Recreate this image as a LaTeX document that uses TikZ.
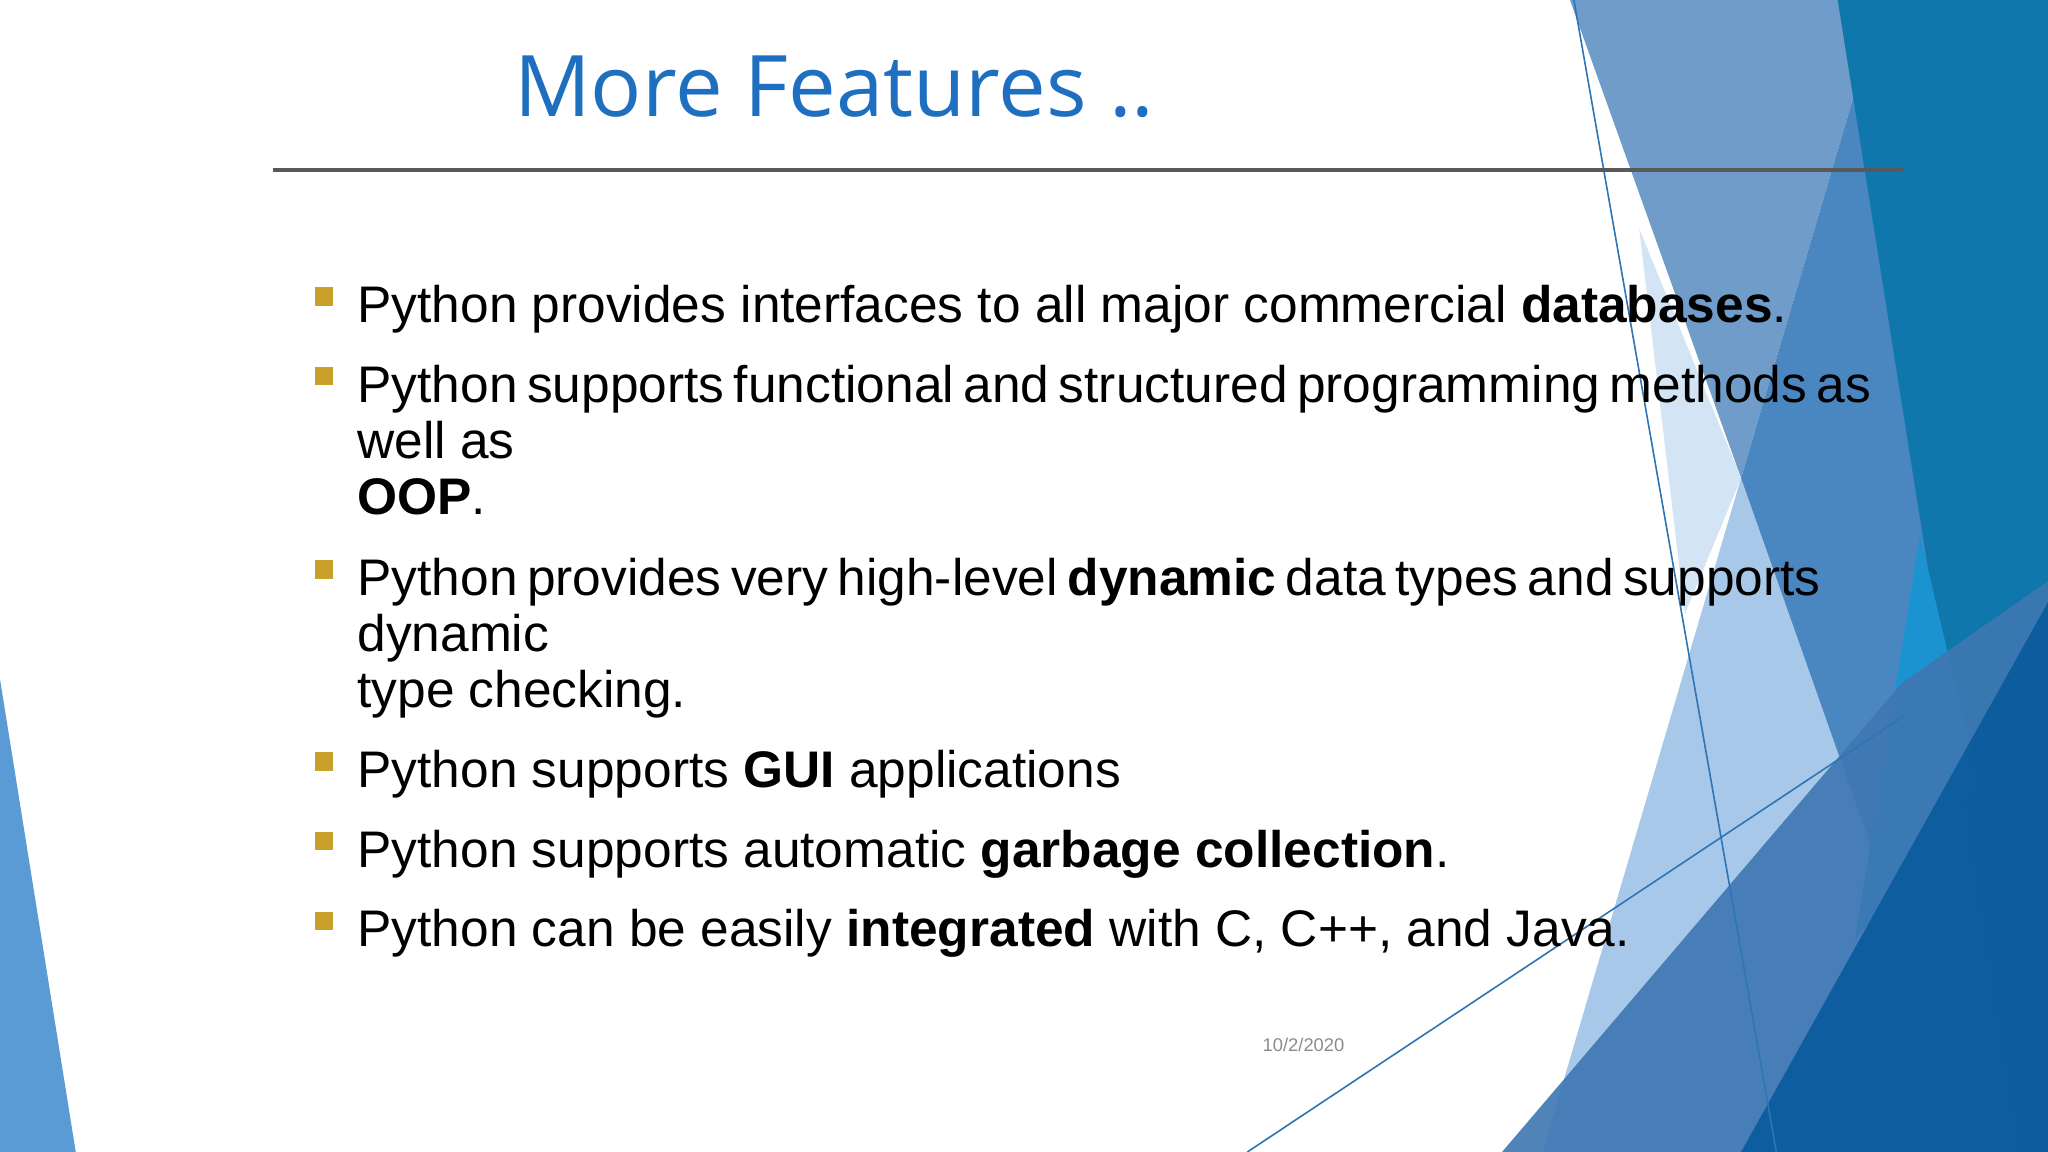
\documentclass[tikz,border=0pt]{standalone}
\usepackage{fontspec}
\setmainfont{Liberation Sans}
\newfontfamily\titlefont{Open Sans}
\definecolor{bulgold}{HTML}{C9A02C}
\definecolor{lineblue}{HTML}{2E75B6}
\definecolor{titleblue}{HTML}{1F6FC0}
\definecolor{cleft}{RGB}{91,155,213}
\definecolor{csteel}{RGB}{111,156,200}
\definecolor{cpale}{RGB}{211,228,245}
\definecolor{clight}{RGB}{168,200,233}
\definecolor{cmed}{RGB}{74,134,191}
\definecolor{cteal}{RGB}{15,119,171}
\definecolor{ccyan}{RGB}{27,147,208}
\definecolor{clow}{RGB}{62,119,178}
\definecolor{cnavy}{RGB}{11,92,158}
\definecolor{crule}{RGB}{89,89,89}
\definecolor{cdate}{RGB}{140,140,140}
\begin{document}
\begin{tikzpicture}[x=0.01cm,y=-0.01cm,
  txt/.style={anchor=base west,inner sep=0pt,font=\fontsize{11.2pt}{13pt}\selectfont},
  bul/.style={fill=bulgold,draw=none},
  ln/.style={draw=lineblue,line width=0.35pt}]
\useasboundingbox (0,0) rectangle (1568,882);
\fill[white] (0,0) rectangle (1568,882);
\begin{scope}
\clip (0,0) rectangle (1568,882);
\fill[cleft] (0,520) -- (58,882) -- (0,882) -- cycle;
\fill[csteel] (1202,0) -- (1441,0) -- (1333,366) -- cycle;
\fill[cpale] (1255,175) -- (1333,366) -- (1290,470) -- cycle;
\fill[clight] (1333,366) -- (1515,882) -- (1181,882) -- cycle;
\fill[cmed] (1441,0) -- (1568,0) -- (1568,882) -- (1515,882) -- (1333,366) -- cycle;
\fill[cteal] (1407,0) -- (1568,0) -- (1568,882) -- (1547,882) -- cycle;
\fill[ccyan] (1470,410) -- (1515,600) -- (1420,720) -- cycle;
\fill[clow,opacity=0.9] (1150,882) -- (1456,523) -- (1568,445) -- (1568,882) -- cycle;
\fill[cnavy,opacity=0.95] (1568,461) -- (1568,882) -- (1333,882) -- cycle;
\coordinate (l1a) at (1205,0); \coordinate (l1b) at (1360,882);
\coordinate (l2a) at (955,882); \coordinate (l2b) at (1458,548);
\draw[ln] (l1a) -- (l1b);
\draw[ln] (l2a) -- (l2b);
\end{scope}
\node[anchor=base west,inner sep=0pt,text=titleblue,font=\titlefont\fontsize{18.5pt}{20pt}\selectfont] (title) at (393,89) {More Features ..};
\coordinate (ra) at (209,130); \coordinate (rb) at (1457,130);
\draw[crule,line width=0.9pt] (ra) -- (rb);
\foreach \b in {247,308,456,603,664,725}{
  \fill[bul] (241,\b-27) rectangle (255,\b-13);
}
\node[txt] (t1) at (273,247) {Python provides interfaces to all major commercial \textbf{databases}.};
\node[txt] (t2) at (273,308) {\makebox[10.92cm][s]{Python supports functional and structured programming methods as}};
\node[txt] (t2b) at (273,351) {well as};
\node[txt] (t2c) at (273,394) {\textbf{OOP}.};
\node[txt] (t3) at (273,456) {\makebox[10.86cm][s]{Python provides very high-level \textbf{dynamic} data types and supports}};
\node[txt] (t3b) at (273,499) {dynamic};
\node[txt] (t3c) at (273,542) {type checking.};
\node[txt] (t4) at (273,603) {Python supports \textbf{GUI} applications};
\node[txt] (t5) at (273,664) {Python supports automatic \textbf{garbage collection}.};
\node[txt] (t6) at (273,725) {Python can be easily \textbf{integrated} with C, C++, and Java.};
\node[anchor=base,inner sep=0pt,text=cdate,font=\fontsize{4pt}{5pt}\selectfont] (date) at (998,805) {10/2/2020};
\end{tikzpicture}
\end{document}
